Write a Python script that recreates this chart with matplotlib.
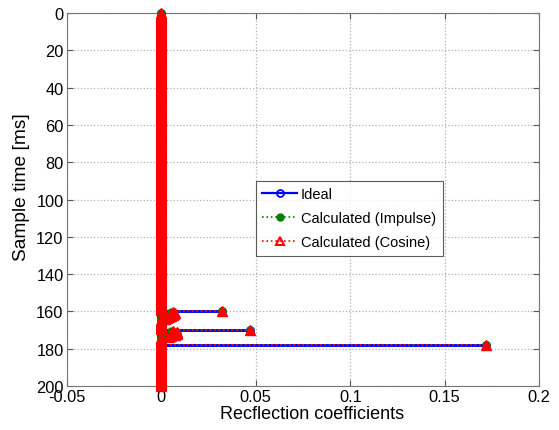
import numpy as np
import matplotlib
matplotlib.use('Agg')
import matplotlib.pyplot as plt

plt.rcParams['font.family'] = ['Liberation Sans', 'DejaVu Sans']

# sample times (ms) and reflection coefficients
time_ms = np.arange(0, 200.5, 0.5)

ideal_times = [160, 170, 178]
ideal_vals = [0.032, 0.047, 0.172]

impulse_times = [160, 160.5, 161, 161.5, 162, 162.5, 163,
                 170, 170.5, 171, 171.5, 172, 172.5, 173, 178]
impulse_vals = [0.032, 0.005, 0.006, 0.006, 0.005, 0.004, 0.003,
                0.047, 0.005, 0.007, 0.008, 0.007, 0.006, 0.004, 0.172]

cosine_times = [160, 160.5, 161, 161.5, 162, 162.5, 163, 163.5, 164,
                170, 170.5, 171, 171.5, 172, 172.5, 173, 173.5, 178]
cosine_vals = [0.032, 0.006, 0.007, 0.0065, 0.006, 0.005, 0.004, 0.003, 0.002,
               0.047, 0.006, 0.008, 0.0085, 0.008, 0.007, 0.005, 0.004, 0.172]


def series(times, vals):
    r = np.zeros_like(time_ms)
    for t, v in zip(times, vals):
        r[np.searchsorted(time_ms, t)] = v
    return r


ideal = series(ideal_times, ideal_vals)
impulse = series(impulse_times, impulse_vals)
cosine = series(cosine_times, cosine_vals)

fig = plt.figure(figsize=(5.59, 4.31), dpi=100)
ax = fig.add_axes([0.1199, 0.1021, 0.8443, 0.8654])

# Ideal: blue solid stems, open circles
ax.hlines(time_ms, 0, ideal, colors='#0000ff', linewidth=1.8, zorder=3)
ax.plot(ideal, time_ms, 'o', color='#0000ff', mfc='none', ms=5, mew=1.3,
        clip_on=False, zorder=3)
# Calculated (Impulse): green dotted stems, filled dots
ax.hlines(time_ms, 0, impulse, colors='#0000ff', linewidth=1.8, zorder=3.5)
ax.hlines(time_ms, 0, impulse, colors='#008000', linewidth=1.2, linestyles=':', zorder=4)
ax.plot(impulse, time_ms, 'o', color='#008000', ms=5, clip_on=False, zorder=4)
# Calculated (Cosine): red dotted stems, filled triangles
ax.hlines(time_ms, 0, cosine, colors='#ff0000', linewidth=1.2, linestyles=':', zorder=5)
ax.plot(cosine, time_ms, '^', color='#ff0000', ms=6.5, clip_on=False, zorder=5)

# legend proxies
h1, = ax.plot([], [], '-o', color='#0000ff', mfc='none', ms=5, mew=1.3, lw=1.6)
h2, = ax.plot([], [], ':o', color='#008000', ms=5, lw=1.2)
h3, = ax.plot([], [], ':^', color='#ff0000', mfc='none', ms=6, mew=1.5, lw=1.2)
leg = ax.legend([h1, h2, h3], ['Ideal', 'Calculated (Impulse)', 'Calculated (Cosine)'],
                loc='upper left', bbox_to_anchor=(0.40, 0.55), fontsize=10.5,
                frameon=True, fancybox=False, borderpad=0.45, labelspacing=0.68,
                handlelength=2.4, handletextpad=0.25, borderaxespad=0)
leg.get_frame().set_edgecolor('#333333')
leg.get_frame().set_linewidth(0.8)

ax.set_xlim(-0.05, 0.2)
ax.set_ylim(200, 0)
ax.set_xticks([-0.05, 0, 0.05, 0.1, 0.15, 0.2])
ax.set_xticklabels(['-0.05', '0', '0.05', '0.1', '0.15', '0.2'])
ax.set_yticks(np.arange(0, 201, 20))
ax.grid(True, linestyle=':', color='#b0b0b0', linewidth=0.9)
ax.set_axisbelow(True)
ax.tick_params(direction='in', top=True, right=True, labelsize=11.8, length=4,
               color='#555555', pad=2.5)
for s in ax.spines.values():
    s.set_color('#777777')
    s.set_linewidth(0.8)

ax.set_xlabel('Recflection coefficients', fontsize=13)
ax.set_ylabel('Sample time [ms]', fontsize=13.8)
ax.xaxis.set_label_coords(0.52, -0.05)
ax.yaxis.set_label_coords(-0.078, 0.535)

fig.savefig('out.png', dpi=100, facecolor='white')
